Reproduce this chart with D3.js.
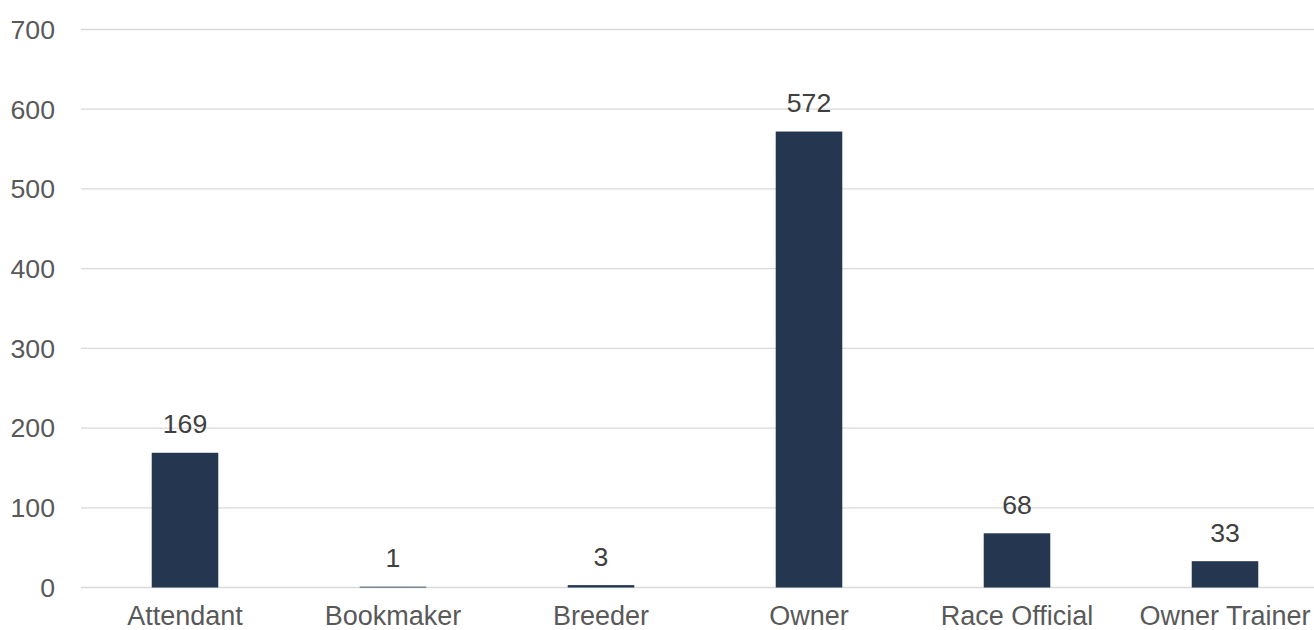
<!DOCTYPE html>
<html>
<head>
<meta charset="utf-8">
<script src="https://cdn.jsdelivr.net/npm/d3@7"></script>
<style>
  body { margin: 0; background: #fff; }
  svg { display: block; font-family: "Liberation Sans", Arial, sans-serif; }
</style>
</head>
<body>
<div id="chart"></div>
<script>
// Data
const categories = ["Attendant", "Bookmaker", "Breeder", "Owner", "Race Official", "Owner Trainer"];
const counts = [169, 1, 3, 572, 68, 33];
const yTicks = [0, 100, 200, 300, 400, 500, 600, 700];

const width = 1314;
const height = 630;
const plotLeft = 81;
const plotRight = 1329; // plot runs slightly past the window edge
const yTop = 29.5;
const yBottom = 587.5;

const x = d3.scaleBand()
    .domain(categories)
    .range([plotLeft, plotRight])
    .paddingInner(0.68)
    .paddingOuter(0.34);

const y = d3.scaleLinear()
    .domain([0, 700])
    .range([yBottom, yTop]);

const svg = d3.select("#chart").append("svg")
    .attr("width", width)
    .attr("height", height);

// gridlines
svg.append("g")
    .selectAll("line")
    .data(yTicks)
    .join("line")
    .attr("x1", plotLeft)
    .attr("x2", plotRight)
    .attr("y1", d => y(d))
    .attr("y2", d => y(d))
    .attr("stroke", "#d9d9d9")
    .attr("stroke-width", 1.3);

// y axis labels
svg.append("g")
    .selectAll("text")
    .data(yTicks)
    .join("text")
    .attr("x", 55)
    .attr("y", d => y(d))
    .attr("dy", "0.35em")
    .attr("text-anchor", "end")
    .attr("fill", "#595959")
    .attr("font-size", "26.67px")
    .text(d => d);

// bars
svg.append("g")
    .selectAll("rect")
    .data(categories)
    .join("rect")
    .attr("x", d => x(d))
    .attr("width", x.bandwidth())
    .attr("y", (d, i) => y(counts[i]))
    .attr("height", (d, i) => y(0) - y(counts[i]))
    .attr("fill", "#243650");

// value labels
svg.append("g")
    .selectAll("text")
    .data(categories)
    .join("text")
    .attr("x", d => x(d) + x.bandwidth() / 2)
    .attr("y", (d, i) => y(counts[i]) - 19.5)
    .attr("text-anchor", "middle")
    .attr("fill", "#404040")
    .attr("font-size", "26.67px")
    .text((d, i) => counts[i]);

// x axis labels
svg.append("g")
    .selectAll("text")
    .data(categories)
    .join("text")
    .attr("x", d => x(d) + x.bandwidth() / 2)
    .attr("y", 625)
    .attr("text-anchor", "middle")
    .attr("fill", "#595959")
    .attr("font-size", "27px")
    .text(d => d);
</script>
</body>
</html>
